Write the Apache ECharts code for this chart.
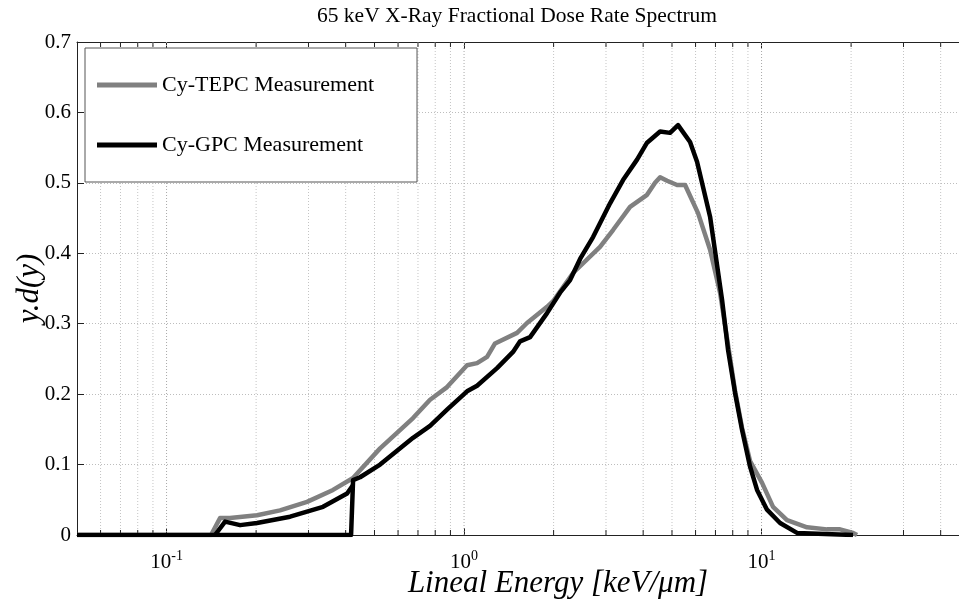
<!DOCTYPE html>
<html>
<head>
<meta charset="utf-8">
<script src="https://cdn.jsdelivr.net/npm/echarts@6/dist/echarts.min.js"></script>
<style>html,body{margin:0;padding:0;background:#fff;overflow:hidden}#c{width:959px;height:603px}</style>
</head>
<body>
<div id="c"></div>
<script>
// ---- data ----
const tepcX = [0.05, 0.1411, 0.1513, 0.1634, 0.2014, 0.2407, 0.2967, 0.3627, 0.4236, 0.4472, 0.5221, 0.6738, 0.7686, 0.8767, 1.0235, 1.106, 1.195, 1.271, 1.507, 1.628, 1.901, 1.992, 2.325, 2.865, 3.168, 3.614, 4.122, 4.386, 4.560, 4.813, 5.200, 5.533, 6.117, 6.714, 7.253, 7.716, 8.144, 8.601, 9.150, 10.04, 10.93, 12.18, 14.22, 16.61, 18.36, 20.30, 20.94];
const tepcY = [0, 0, 0.024, 0.024, 0.028, 0.035, 0.047, 0.064, 0.081, 0.092, 0.123, 0.166, 0.192, 0.210, 0.241, 0.244, 0.253, 0.272, 0.287, 0.301, 0.324, 0.332, 0.372, 0.409, 0.433, 0.466, 0.483, 0.500, 0.508, 0.503, 0.497, 0.497, 0.457, 0.405, 0.344, 0.270, 0.205, 0.152, 0.105, 0.074, 0.040, 0.021, 0.011, 0.008, 0.008, 0.003, 0];

const gpcX = [0.05, 0.4171, 0.4236, 0.4472, 0.5221, 0.6738, 0.7686, 0.8767, 1.0235, 1.106, 1.291, 1.461, 1.543, 1.667, 1.901, 2.102, 2.272, 2.455, 2.714, 3.096, 3.423, 3.815, 4.122, 4.560, 4.925, 5.240, 5.750, 6.070, 6.714, 7.366, 7.716, 8.144, 8.601, 9.150, 9.658, 10.43, 11.54, 13.16, 20.30];
const gpcY = [0, 0, 0.078, 0.082, 0.100, 0.138, 0.155, 0.178, 0.204, 0.212, 0.237, 0.260, 0.275, 0.281, 0.315, 0.344, 0.362, 0.392, 0.423, 0.471, 0.504, 0.533, 0.557, 0.573, 0.571, 0.582, 0.558, 0.530, 0.452, 0.334, 0.263, 0.202, 0.149, 0.097, 0.064, 0.036, 0.017, 0.003, 0];

const gpcLowX = [0.1455, 0.1573, 0.1767, 0.2014, 0.2602, 0.3357, 0.4044, 0.4236];
const gpcLowY = [0, 0.019, 0.014, 0.017, 0.026, 0.040, 0.059, 0.071];

const xMajorTicks = [0.1, 1, 10];
const xMajorExp = ['-1', '0', '1'];
const xMinorTicks = [0.06, 0.07, 0.08, 0.09, 0.2, 0.3, 0.4, 0.5, 0.6, 0.7, 0.8, 0.9, 2, 3, 4, 5, 6, 7, 8, 9, 20, 30, 40];
const yTickLabels = ['0', '0.1', '0.2', '0.3', '0.4', '0.5', '0.6', '0.7'];

// visible x range (the reference crops the axis at the right picture edge)
const X_MIN = 0.05, X_MAX = 46.1, Y_MIN = 0, Y_MAX = 0.7;
const zip = (a, b) => a.map((v, i) => [v, b[i]]);

const serif = '"Liberation Serif", "Times New Roman", serif';
const axisColor = '#222';

const gridItems = xMajorTicks.map(v => [v, 0, 1]).concat(xMinorTicks.map(v => [v, 0, 0]));

const chart = echarts.init(document.getElementById('c'), null, { renderer: 'canvas' });
chart.setOption({
  animation: false,
  backgroundColor: '#fff',
  title: [
    { text: '65 keV X-Ray Fractional Dose Rate Spectrum', left: 517, top: 5, padding: 0, textAlign: 'center',
      textStyle: { fontFamily: serif, fontSize: 21.5, fontWeight: 'normal', color: '#000' } },
    { text: 'Lineal Energy [keV/μm]', left: 558, top: 568, padding: 0, textAlign: 'center',
      textStyle: { fontFamily: serif, fontSize: 31, fontStyle: 'italic', fontWeight: 'normal', color: '#000' } }
  ],
  grid: { left: 77, right: 0, top: 42, bottom: 68, containLabel: false, outerBoundsMode: 'none' },
  legend: {
    orient: 'vertical', left: 85, top: 48,
    padding: [25, 43, 25, 12],
    itemGap: 36, itemWidth: 60, itemHeight: 5, icon: 'rect',
    backgroundColor: '#fff', borderColor: '#555', borderWidth: 1,
    textStyle: { fontFamily: serif, fontSize: 22, color: '#000', lineHeight: 24 },
    data: ['Cy-TEPC Measurement', 'Cy-GPC Measurement'],
    selectedMode: false, z: 10
  },
  xAxis: [
    {
      type: 'log', logBase: 10, min: X_MIN, max: X_MAX, position: 'bottom',
      axisLine: { show: true, onZero: false, lineStyle: { color: axisColor, width: 1 } },
      axisTick: { show: true, inside: true, length: 7, lineStyle: { color: axisColor } },
      splitLine: { show: false },
      axisLabel: {
        show: true, margin: 14, showMinLabel: false, showMaxLabel: false,
        formatter: function (v) {
          const i = xMajorTicks.findIndex(t => Math.abs(t - v) / t < 1e-6);
          return i < 0 ? '' : '{b|10}{s|' + xMajorExp[i] + '}';
        },
        rich: {
          b: { fontFamily: serif, fontSize: 21, color: '#000', lineHeight: 24, verticalAlign: 'bottom' },
          s: { fontFamily: serif, fontSize: 14, color: '#000', lineHeight: 24, verticalAlign: 'top', padding: [0, 0, 12, 0] }
        }
      }
    },
    {
      type: 'log', logBase: 10, min: X_MIN, max: X_MAX, position: 'top',
      axisLine: { show: true, onZero: false, lineStyle: { color: axisColor, width: 1 } },
      axisTick: { show: true, inside: true, length: 7, lineStyle: { color: axisColor } },
      splitLine: { show: false }, axisLabel: { show: false }
    }
  ],
  yAxis: {
    type: 'value', min: Y_MIN, max: Y_MAX, interval: 0.1,
    name: 'y.d(y)', nameLocation: 'middle', nameGap: 32, nameRotate: 90, nameMoveOverlap: false,
    nameTextStyle: { fontFamily: serif, fontSize: 31, fontStyle: 'italic', color: '#000' },
    axisLine: { show: true, lineStyle: { color: axisColor, width: 1 } },
    axisTick: { show: true, inside: true, length: 7, lineStyle: { color: axisColor } },
    splitLine: { show: true, lineStyle: { color: '#bdbdbd', width: 1, type: [1, 2] } },
    axisLabel: {
      margin: 6, fontFamily: serif, fontSize: 21, color: '#000',
      formatter: function (v) { return yTickLabels[Math.round(v * 10)]; }
    }
  },
  series: [
    {
      type: 'custom', name: 'xgrid', silent: true, clip: true, z: 1,
      data: gridItems,
      encode: { x: 0, y: 1 },
      renderItem: function (params, api) {
        const v = api.value(0);
        const major = api.value(2) === 1;
        const b = api.coord([v, Y_MIN]);
        const t = api.coord([v, Y_MAX]);
        const children = [
          { type: 'line', shape: { x1: b[0], y1: b[1], x2: t[0], y2: t[1] },
            style: { stroke: major ? '#a8a8a8' : '#c4c4c4', lineWidth: 1, lineDash: [1, 2] } }
        ];
        if (!major) {
          children.push(
            { type: 'line', shape: { x1: b[0], y1: b[1], x2: b[0], y2: b[1] - 5 }, style: { stroke: axisColor, lineWidth: 1 } },
            { type: 'line', shape: { x1: t[0], y1: t[1], x2: t[0], y2: t[1] + 5 }, style: { stroke: axisColor, lineWidth: 1 } }
          );
        }
        return { type: 'group', children: children };
      }
    },
    {
      type: 'line', name: 'Cy-TEPC Measurement', data: zip(tepcX, tepcY),
      showSymbol: false, symbol: 'none', z: 3,
      color: '#808080', itemStyle: { color: '#808080' },
      lineStyle: { color: '#808080', width: 4.5, join: 'round' }
    },
    {
      type: 'line', name: 'Cy-GPC Measurement', data: zip(gpcLowX, gpcLowY),
      showSymbol: false, symbol: 'none', z: 4,
      color: '#000', itemStyle: { color: '#000' },
      lineStyle: { color: '#000', width: 4.5, join: 'round' }
    },
    {
      type: 'line', name: 'Cy-GPC Measurement', data: zip(gpcX, gpcY),
      showSymbol: false, symbol: 'none', z: 4,
      color: '#000', itemStyle: { color: '#000' },
      lineStyle: { color: '#000', width: 4.5, join: 'round' }
    }
  ]
});
</script>
</body>
</html>
